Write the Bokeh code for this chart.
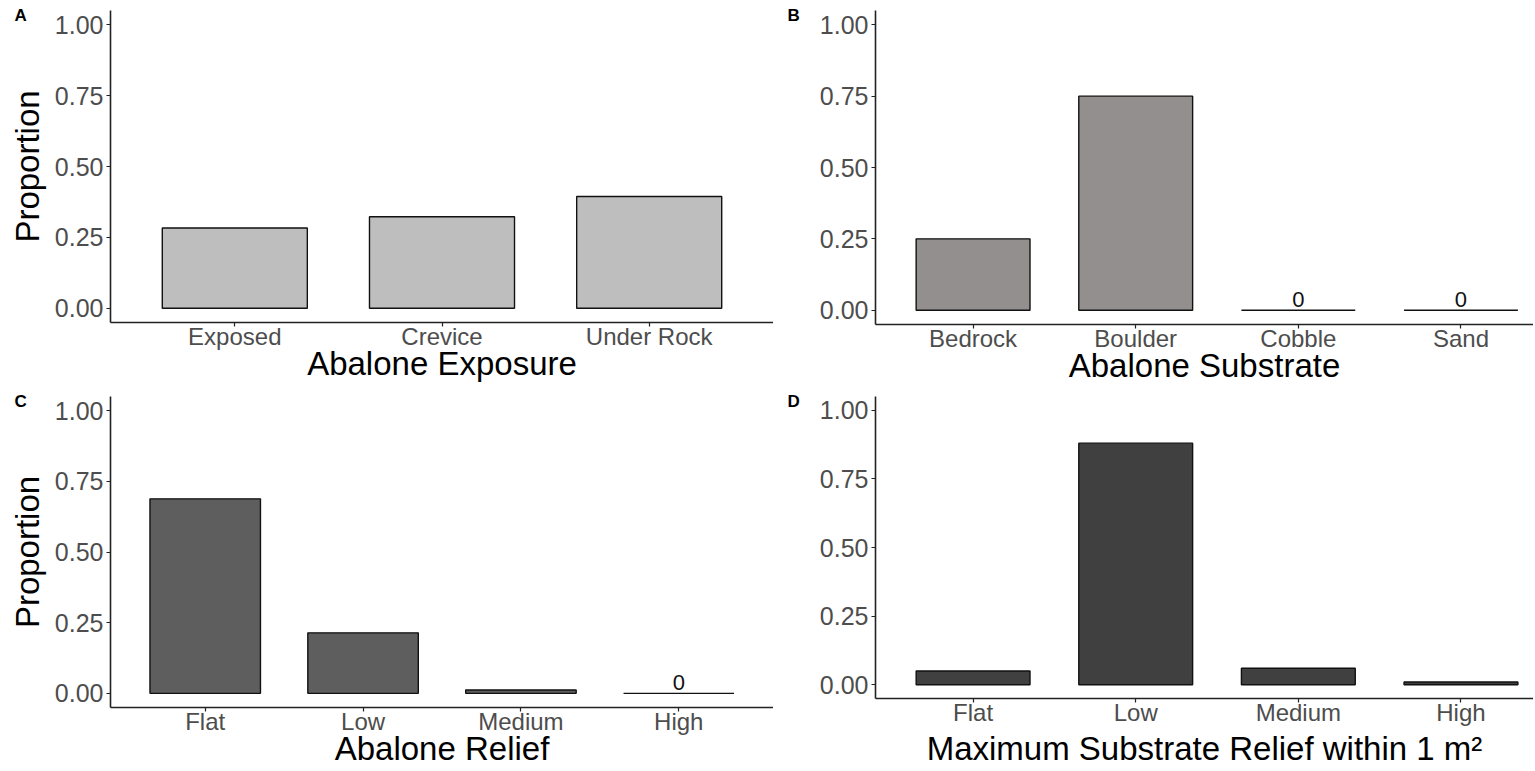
from bokeh.plotting import figure
from bokeh.layouts import column, row
from bokeh.models import (Range1d, FixedTicker, ColumnDataSource, LabelSet,
                          NumeralTickFormatter, Title)
from bokeh.core.properties import value
from bokeh.embed import file_html
from bokeh.resources import INLINE

# ---- data -------------------------------------------------------------
exposure_cats = ["Exposed", "Crevice", "Under Rock"]
exposure_vals = [0.283, 0.323, 0.394]

substrate_cats = ["Bedrock", "Boulder", "Cobble", "Sand"]
substrate_vals = [0.25, 0.75, 0.0, 0.0]

relief_cats = ["Flat", "Low", "Medium", "High"]
relief_vals = [0.688, 0.214, 0.012, 0.0]

max_relief_cats = ["Flat", "Low", "Medium", "High"]
max_relief_vals = [0.05, 0.88, 0.06, 0.01]

y_ticks = [0.0, 0.25, 0.5, 0.75, 1.0]

FONT = "Liberation Sans"
TICK_GREY = "#4D4D4D"
AXIS_COL = "#222222"


def panel(letter, cats, vals, fill, xlabel, x_end, frame_w, frame_h,
          left, top, show_ylabel, title_standoff=-8):
    p = figure(frame_width=frame_w, frame_height=frame_h,
               x_range=Range1d(0.4, x_end), y_range=Range1d(-0.05, 1.05),
               output_backend="svg", toolbar_location=None,
               min_border_left=left, min_border_top=top,
               min_border_right=0, min_border_bottom=0)
    p.outline_line_color = None
    p.background_fill_color = "white"
    p.border_fill_color = "white"
    p.xgrid.visible = False
    p.ygrid.visible = False

    xs = list(range(1, len(cats) + 1))
    src = ColumnDataSource(dict(
        x=xs, top=vals, cat=cats,
        lab=["0" if v == 0 else "" for v in vals],
    ))
    p.vbar(x="x", top="top", bottom=0, width=0.7, source=src,
           fill_color=fill, line_color="#111111", line_width=1.4)

    # value label over empty categories
    p.add_layout(LabelSet(x="x", y="top", text="lab", source=src,
                          text_align="center", text_baseline="bottom",
                          y_offset=3, text_font=value(FONT),
                          text_font_size=value("22px"),
                          text_color="#111111"))

    # x axis
    xa = p.xaxis[0]
    xa.ticker = FixedTicker(ticks=xs)
    xa.major_label_overrides = {i: c for i, c in zip(xs, cats)}
    xa.axis_label = xlabel
    xa.axis_label_standoff = title_standoff
    xa.major_label_standoff = -4
    xa.major_label_text_font_size = "24px"

    # y axis
    ya = p.yaxis[0]
    ya.ticker = FixedTicker(ticks=y_ticks)
    ya.formatter = NumeralTickFormatter(format="0.00")
    ya.axis_label = "Proportion" if show_ylabel else None
    ya.axis_label_standoff = 6
    ya.major_label_standoff = 3
    ya.major_label_text_font_size = "25px"

    for ax in (xa, ya):
        ax.axis_line_color = AXIS_COL
        ax.axis_line_width = 1.6
        ax.major_tick_line_color = AXIS_COL
        ax.major_tick_line_width = 1.2
        ax.major_tick_out = 4
        ax.major_tick_in = 0
        ax.minor_tick_line_color = None
        ax.major_label_text_font = FONT
        ax.major_label_text_color = TICK_GREY
        ax.axis_label_text_font = FONT
        ax.axis_label_text_font_size = "33px"
        ax.axis_label_text_font_style = "normal"
        ax.axis_label_text_color = "black"

    # panel letter in the top-left corner
    p.title = Title(text=letter, align="left", offset=-(left - 14),
                    standoff=-28, vertical_align="bottom",
                    text_font=FONT, text_font_size="17px",
                    text_font_style="bold", text_color="black")
    return p


pA = panel("A", exposure_cats, exposure_vals, "#BEBEBE", "Abalone Exposure",
           3.6, 663, 312, 110, 10, True)
pB = panel("B", substrate_cats, substrate_vals, "#928F8E", "Abalone Substrate",
           4.446, 658, 314, 102, 10, False)
pC = panel("C", relief_cats, relief_vals, "#5E5E5E", "Abalone Relief",
           4.6, 663, 311, 110, 10, True)
pD = panel("D", max_relief_cats, max_relief_vals, "#404040",
           "Maximum Substrate Relief within 1 m²",
           4.446, 658, 302, 102, 10, False, title_standoff=1)

layout = column(row(pA, pB, spacing=0), row(pC, pD, spacing=0), spacing=0)

html = file_html(layout, INLINE, title="Abalone habitat proportions")
html = html.replace("<head>", "<head><style>body{margin:0;padding:0;}</style>", 1)
open("out.html", "w").write(html)
